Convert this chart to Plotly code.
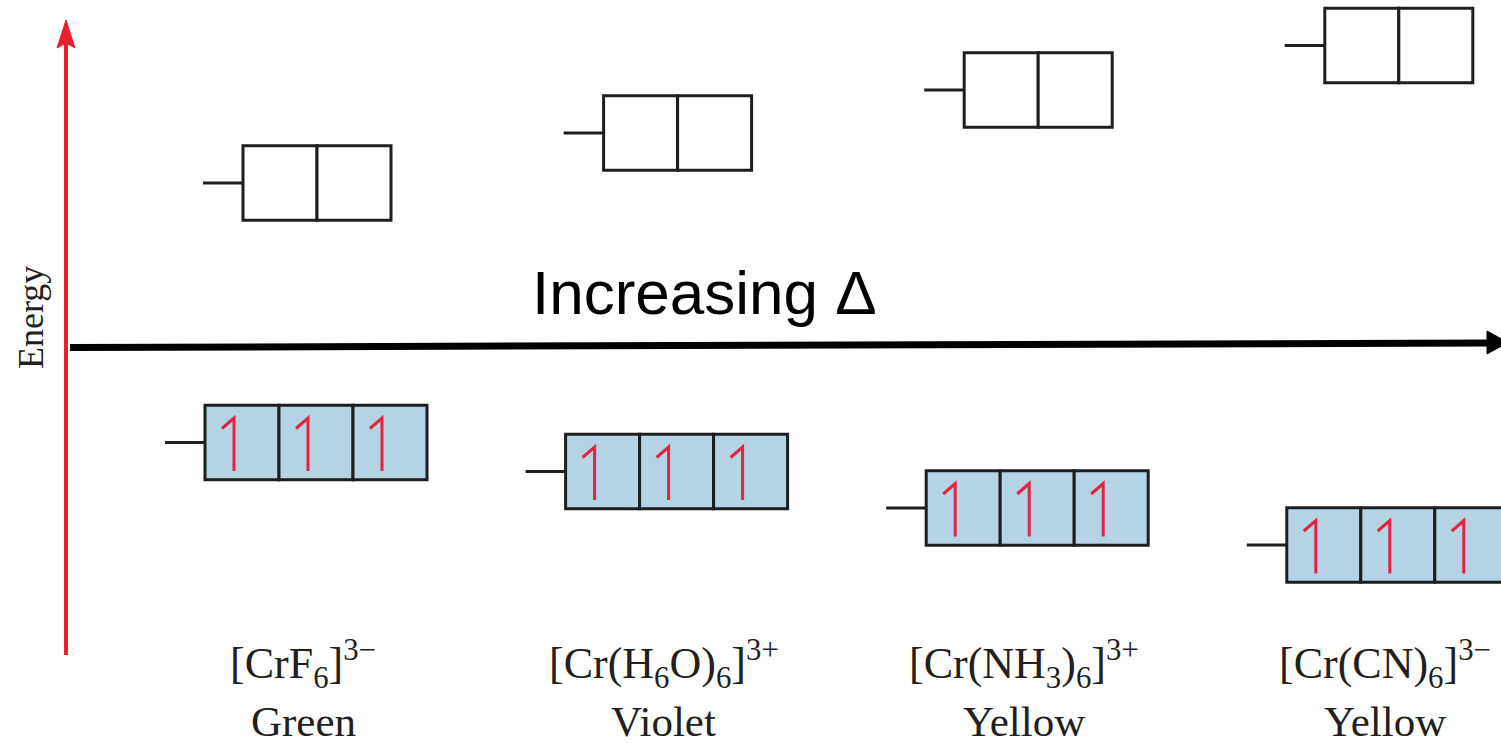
import plotly.graph_objects as go

# ---------------- data ----------------
complexes = [
    "[CrF<sub>6</sub>]<sup>3−</sup>",
    "[Cr(H<sub>6</sub>O)<sub>6</sub>]<sup>3+</sup>",
    "[Cr(NH<sub>3</sub>)<sub>6</sub>]<sup>3+</sup>",
    "[Cr(CN)<sub>6</sub>]<sup>3−</sup>",
]
colour_names = ["Green", "Violet", "Yellow", "Yellow"]
eg_energy = [560.0, 610.0, 653.0, 697.5]     # upper (eg) level, arbitrary energy units
t2g_energy = [300.5, 271.5, 235.0, 198.0]    # lower (t2g) level
t2g_electrons = [1, 1, 1]                    # d3: one spin-up electron per t2g orbital
eg_orbitals = 2
axis_title = "Energy"
delta_label = "Increasing Δ"

# ---------------- layout constants ----------------
W, H = 1501, 743
col_spacing = 360.6
t2g_left0 = 205
eg_offset = 38
box_w = 74
box_h = 74.5
stub = 40
line_col = "#1e1e1e"
fill_col = "#b4d4e6"
red = "#e3243b"
arrow_red = "#e8202e"

shapes = []
annotations = []

def level(x_left, yc, n, fill, electrons=None):
    # stub
    shapes.append(dict(type="line", xref="x", yref="y", x0=x_left - stub, x1=x_left,
                       y0=yc, y1=yc, line=dict(color=line_col, width=3)))
    for k in range(n):
        x0 = x_left + k * box_w
        shapes.append(dict(type="rect", xref="x", yref="y", x0=x0, x1=x0 + box_w,
                           y0=yc - box_h / 2, y1=yc + box_h / 2,
                           fillcolor=fill, line=dict(color=line_col, width=3), layer="above"))
        if electrons and electrons[k]:
            ex = x0 + 29
            path = f"M {ex},{yc - 28.5} L {ex},{yc + 24.5} L {ex - 12},{yc + 14}"
            shapes.append(dict(type="path", xref="x", yref="y", path=path,
                               line=dict(color=red, width=3), layer="above"))

for i in range(len(complexes)):
    xl = t2g_left0 + i * col_spacing
    level(xl + eg_offset, eg_energy[i], eg_orbitals, "white")
    level(xl, t2g_energy[i], len(t2g_electrons), fill_col, t2g_electrons)
    annotations.append(dict(x=xl + 98, y=H - 664, xref="x", yref="y", text=complexes[i],
                            showarrow=False, xanchor="center", yanchor="middle",
                            font=dict(family="Liberation Serif", size=44, color="#231f20")))
    annotations.append(dict(x=xl + 98, y=H - 721, xref="x", yref="y", text=colour_names[i],
                            showarrow=False, xanchor="center", yanchor="middle",
                            font=dict(family="Liberation Serif", size=43, color="#231f20")))

# red energy axis arrow
shapes.append(dict(type="line", xref="x", yref="y", x0=66, x1=66, y0=H - 655, y1=H - 40,
                   line=dict(color=arrow_red, width=4)))
shapes.append(dict(type="path", xref="x", yref="y",
                   path=f"M 66,{H-20} L 75,{H-48} L 66,{H-43} L 57,{H-48} Z",
                   fillcolor=arrow_red, line=dict(color=arrow_red, width=1)))

# black increasing-delta arrow
shapes.append(dict(type="line", xref="x", yref="y", x0=70, x1=1490, y0=H - 347.5, y1=H - 343,
                   line=dict(color="black", width=7)))
shapes.append(dict(type="path", xref="x", yref="y",
                   path=f"M 1487,{H-331} L 1508,{H-342.5} L 1487,{H-354} Z",
                   fillcolor="black", line=dict(color="black", width=1)))

annotations.append(dict(x=704, y=H - 292, xref="x", yref="y", text=delta_label,
                        showarrow=False, xanchor="center", yanchor="middle",
                        font=dict(family="Liberation Sans", size=62, color="black")))
annotations.append(dict(x=31, y=H - 318, xref="x", yref="y", text=axis_title, textangle=-90,
                        showarrow=False, xanchor="center", yanchor="middle",
                        font=dict(family="Liberation Serif", size=36, color="#231f20")))

fig = go.Figure()
fig.add_trace(go.Scatter(x=[0, W], y=[0, H], mode="markers", marker=dict(opacity=0),
                         hoverinfo="skip", showlegend=False))
fig.update_layout(
    width=W, height=H, autosize=False,
    margin=dict(l=0, r=0, t=0, b=0),
    paper_bgcolor="white", plot_bgcolor="white",
    xaxis=dict(range=[0, W], visible=False, fixedrange=True),
    yaxis=dict(range=[0, H], visible=False, fixedrange=True),
    shapes=shapes, annotations=annotations, showlegend=False,
)
fig.write_html(
    "out.html",
    config={"displayModeBar": False},
    post_script="document.body.style.margin='0';document.body.style.overflow='hidden';",
)
